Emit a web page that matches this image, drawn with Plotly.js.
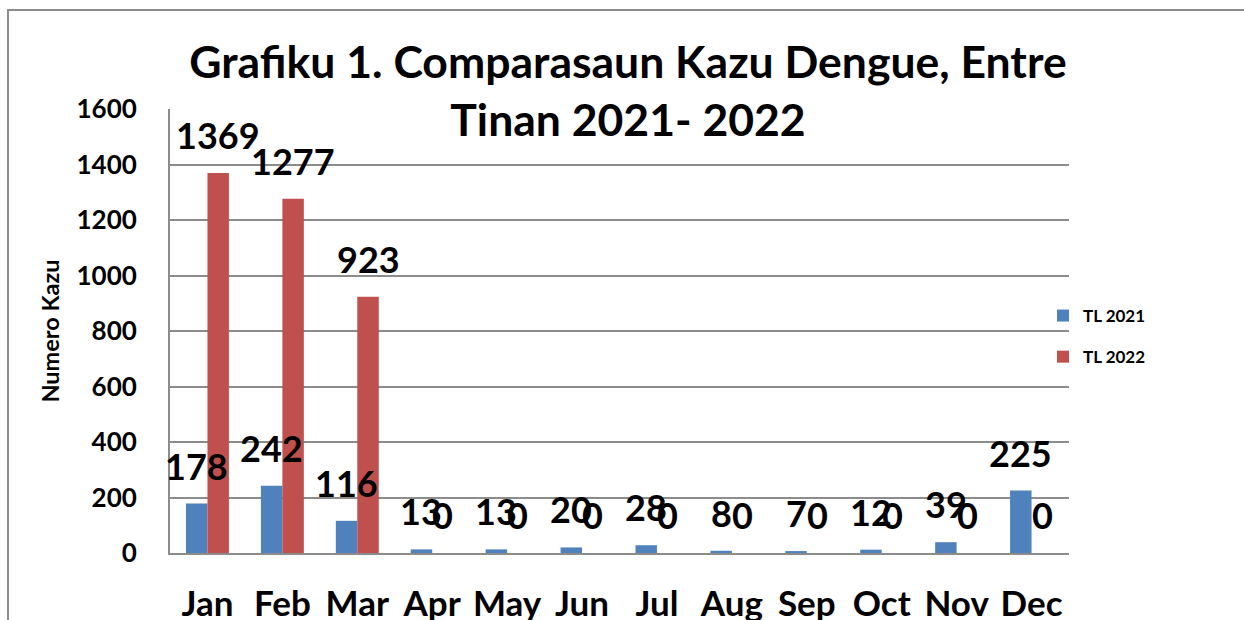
<!DOCTYPE html>
<html>
<head>
<meta charset="utf-8">
<script src="https://cdn.plot.ly/plotly-3.0.1.min.js"></script>
<style>
  html, body { margin: 0; padding: 0; background: #fff; }
  #frame { position: absolute; left: 7px; top: 9px; width: 1300px; height: 700px;
           border-left: 2px solid #8c8c8c; border-top: 2px solid #8c8c8c; box-sizing: border-box; }
  #chart { position: absolute; left: 0; top: 0; width: 1244px; height: 620px; }
</style>
</head>
<body>
<div id="frame"></div>
<div id="chart"></div>
<script>
const months = ["Jan","Feb","Mar","Apr","May","Jun","Jul","Aug","Sep","Oct","Nov","Dec"];
const tl2021 = [178, 242, 116, 13, 13, 20, 28, 8, 7, 12, 39, 225];
const tl2022 = [1369, 1277, 923, 0, 0, 0, 0, 0, 0, 0, 0, 0];
const seriesNames = ["TL 2021", "TL 2022"];
const colors = ["#4F81BD", "#C0504D"];
const yTicks = [0, 200, 400, 600, 800, 1000, 1200, 1400, 1600];

const FONT = "Lato, 'Open Sans', sans-serif";

const traces = [tl2021, tl2022].map((vals, i) => ({
  type: "bar",
  x: months,
  y: vals,
  name: seriesNames[i],
  legendgroup: "g" + i,
  marker: { color: colors[i], line: { width: 0 } },
  hoverinfo: "x+y+name"
}));

const annotations = [];
[tl2021, tl2022].forEach((vals, i) => {
  vals.forEach((v, k) => {
    annotations.push({
      x: months[k], y: v, xref: "x", yref: "y",
      text: String(v), showarrow: false,
      xanchor: "center", yanchor: "bottom",
      xshift: i === 0 ? -10.75 : 10.75, yshift: 14,
      font: { family: FONT, size: 36, color: "#000", weight: "bold" }
    });
  });
});

const layout = {
  width: 1244, height: 620,
  margin: { l: 170, r: 175, t: 109, b: 67, pad: 0, autoexpand: false },
  paper_bgcolor: "rgba(0,0,0,0)",
  plot_bgcolor: "rgba(0,0,0,0)",
  font: { family: FONT, color: "#000", weight: "bold" },
  title: {
    text: "Grafiku 1. Comparasaun Kazu Dengue, Entre<br>Tinan 2021- 2022",
    font: { family: FONT, size: 44.5, color: "#000", weight: "bold" },
    x: 628 / 1244, xref: "container", xanchor: "center",
    y: 1 - 78 / 620, yref: "container", yanchor: "middle"
  },
  barmode: "group",
  bargap: 0.427,
  bargroupgap: 0,
  xaxis: {
    type: "category",
    range: [-0.5, months.length - 0.5],
    automargin: false,
    showgrid: false,
    showline: true, linecolor: "#8c8c8c", linewidth: 2,
    ticks: "",
    tickfont: { family: FONT, size: 35, color: "#000", weight: "bold" },
    ticklabelstandoff: 19,
    zeroline: false
  },
  yaxis: {
    automargin: false,
    range: [0, 1600],
    tickvals: yTicks,
    ticktext: yTicks.map(String),
    showgrid: true, gridcolor: "#8c8c8c", gridwidth: 2,
    showline: true, linecolor: "#8c8c8c", linewidth: 2,
    zeroline: false,
    ticks: "",
    tickfont: { family: FONT, size: 26, color: "#000", weight: "bold" },
    ticklabelstandoff: 26,
    title: { text: "Numero Kazu", font: { family: FONT, size: 23.5, color: "#000", weight: "bold" }, standoff: 10 }
  },
  legend: {
    x: 1043 / 1244, xref: "container", xanchor: "left",
    y: 1 - 298 / 620, yref: "container", yanchor: "top",
    font: { family: FONT, size: 17, color: "#000", weight: "bold" },
    traceorder: "grouped",
    tracegroupgap: 16,
    itemwidth: 30,
    bgcolor: "rgba(0,0,0,0)"
  },
  annotations: annotations,
  showlegend: true
};

Plotly.newPlot("chart", traces, layout, { displayModeBar: false, staticPlot: true });
</script>
</body>
</html>
